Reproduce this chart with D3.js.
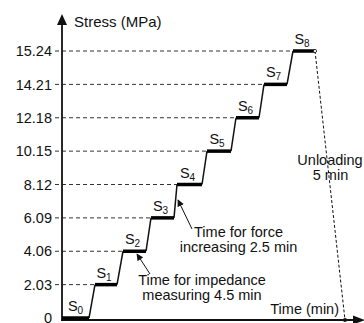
<!DOCTYPE html>
<html>
<head>
<meta charset="utf-8">
<script src="https://cdn.jsdelivr.net/npm/d3@7"></script>
<style>
  body { margin: 0; background: #fff; }
  text { font-family: "Liberation Sans", Arial, sans-serif; fill: #111; }
</style>
</head>
<body>
<div id="chart"></div>
<script>
// stress levels (tick labels, evenly spaced on the drawing)
var stressLabels = ["0", "2.03", "4.06", "6.09", "8.12", "10.15", "12.18", "14.21", "15.24"]
// schematic time (min) where each holding step starts / ends
var holdStart = [0, 8.25, 15.25, 22.25, 28.75, 36.25, 43.5, 50.5, 57.75]
var holdEnd = [6.75, 13.75, 21, 28, 35, 42.25, 49.25, 56.25, 63.25]
var unloadEnd = 70.75
var timeMax = 75.75

var width = 364, height = 323

var svg = d3.select('#chart').append('svg')
    .attr('width', width)
    .attr('height', height)

var defs = svg.append('defs')
defs.append('marker')
    .attr('id', 'arr')
    .attr('viewBox', '0 0 10 10')
    .attr('refX', 9).attr('refY', 5)
    .attr('markerWidth', 7).attr('markerHeight', 7)
    .attr('markerUnits', 'userSpaceOnUse')
    .attr('orient', 'auto')
    .append('path').attr('d', 'M0,0L10,5L0,10z').attr('fill', '#111')

var x = d3.scaleLinear().domain([0, timeMax]).range([62, 365])
var y = d3.scalePoint().domain(stressLabels).range([318, 51])
var axisY = 320

// dashed guide lines from tick to step start
svg.selectAll('line.grid')
    .data(stressLabels.slice(1))
    .enter().append('line')
    .attr('x1', 55)
    .attr('x2', function (d, i) { return x(holdStart[i + 1]) })
    .attr('y1', function (d) { return y(d) })
    .attr('y2', function (d) { return y(d) })
    .attr('stroke', '#333')
    .attr('stroke-width', 1)
    .attr('stroke-dasharray', '4,3')

// tick labels
svg.selectAll('text.tick')
    .data(stressLabels)
    .enter().append('text')
    .attr('x', 52)
    .attr('y', function (d) { return y(d) })
    .attr('dy', '0.36em')
    .attr('text-anchor', 'end')
    .style('font-size', '14.5px')
    .text(function (d) { return d })

// axes
svg.append('line')
    .attr('x1', 62).attr('x2', 62).attr('y1', axisY + 1).attr('y2', 25)
    .attr('stroke', '#111').attr('stroke-width', 1.8)
svg.append('path').attr('d', 'M57,25L67,25L62,14z').attr('fill', '#111')
svg.append('line')
    .attr('x1', 61).attr('x2', 354).attr('y1', axisY).attr('y2', axisY)
    .attr('stroke', '#111').attr('stroke-width', 2)
svg.append('path').attr('d', 'M353,315.5L353,324.5L365,320z').attr('fill', '#111')

svg.append('text').attr('x', 74).attr('y', 27)
    .style('font-size', '15px').text('Stress (MPa)')
svg.append('text').attr('x', 339).attr('y', 314).attr('text-anchor', 'end')
    .style('font-size', '14.5px').text('Time (min)')

// rising segments
svg.selectAll('line.rise')
    .data(stressLabels.slice(0, -1))
    .enter().append('line')
    .attr('x1', function (d, i) { return x(holdEnd[i]) })
    .attr('y1', function (d) { return y(d) })
    .attr('x2', function (d, i) { return x(holdStart[i + 1]) })
    .attr('y2', function (d, i) { return y(stressLabels[i + 1]) })
    .attr('stroke', '#111').attr('stroke-width', 1.5)

// unloading line
var topLevel = stressLabels[stressLabels.length - 1]
svg.append('line')
    .attr('x1', x(holdEnd[8])).attr('y1', y(topLevel))
    .attr('x2', x(unloadEnd)).attr('y2', axisY)
    .attr('stroke', '#111').attr('stroke-width', 1)
    .attr('stroke-dasharray', '3,2')

// holding steps
svg.selectAll('line.hold')
    .data(stressLabels)
    .enter().append('line')
    .attr('x1', function (d, i) { return x(holdStart[i]) })
    .attr('x2', function (d, i) { return x(holdEnd[i]) })
    .attr('y1', function (d) { return y(d) })
    .attr('y2', function (d) { return y(d) })
    .attr('stroke', '#000').attr('stroke-width', 3.5)

svg.append('circle').attr('cx', x(holdEnd[8])).attr('cy', y(topLevel)).attr('r', 1.6)
    .attr('fill', '#fff').attr('stroke', '#111').attr('stroke-width', 0.8)
svg.append('circle').attr('cx', x(unloadEnd)).attr('cy', axisY).attr('r', 2)
    .attr('fill', '#111')

// step names
var names = svg.selectAll('text.sname')
    .data(stressLabels)
    .enter().append('text')
    .attr('x', function (d, i) { return (x(holdStart[i]) + x(holdEnd[i])) / 2 - 2 + (i == 0 ? 2 : 0) })
    .attr('y', function (d) { return y(d) - 7 })
    .attr('text-anchor', 'middle')
    .style('font-size', '14.5px')
names.append('tspan').text('S')
names.append('tspan').attr('dy', 3).style('font-size', '10px')
    .text(function (d, i) { return i })

// annotations
function twoLines(cx, y0, l1, l2) {
    var t = svg.append('text').attr('text-anchor', 'middle').style('font-size', '14.5px')
    t.append('tspan').attr('x', cx).attr('y', y0).text(l1)
    t.append('tspan').attr('x', cx).attr('y', y0 + 15).text(l2)
}
twoLines(238.5, 237, 'Time for force', 'increasing 2.5 min')
twoLines(202, 285, 'Time for impedance', 'measuring 4.5 min')

var unl = svg.append('text').attr('text-anchor', 'middle').style('font-size', '14.5px')
unl.append('tspan').attr('x', 330).attr('y', 165).text('Unloading')
unl.append('tspan').attr('x', 330.5).attr('y', 180).text('5 min')

svg.append('line').attr('x1', 150).attr('y1', 274).attr('x2', 137).attr('y2', 254)
    .attr('stroke', '#111').attr('stroke-width', 1).attr('marker-end', 'url(#arr)')
svg.append('line').attr('x1', 192).attr('y1', 229).attr('x2', 178).attr('y2', 200)
    .attr('stroke', '#111').attr('stroke-width', 1).attr('marker-end', 'url(#arr)')
</script>
</body>
</html>
